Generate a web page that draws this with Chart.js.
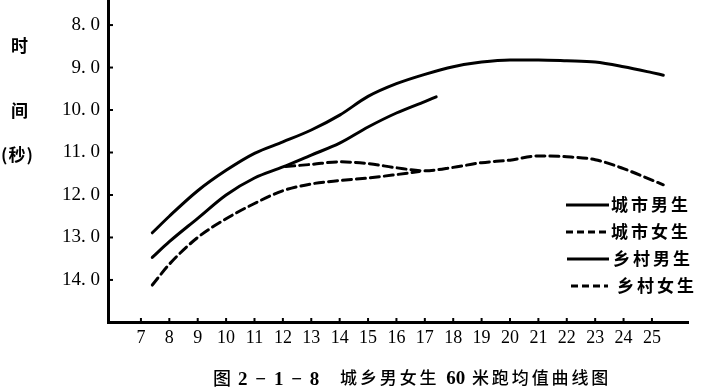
<!DOCTYPE html>
<html>
<head>
<meta charset="utf-8">
<script src="https://cdn.jsdelivr.net/npm/chart.js@4.4.1/dist/chart.umd.min.js"></script>
<style>
  html, body { margin: 0; padding: 0; background: #fff; }
  #wrap { position: relative; width: 712px; height: 390px; }
  canvas { position: absolute; left: 0; top: 0; }
  .t { position: absolute; font-family: "Noto Sans CJK SC", sans-serif; color: #000; font-weight: 700; white-space: nowrap; line-height: 1; }
  .s { font-family: "Liberation Serif", serif; }
</style>
</head>
<body>
<div id="wrap">
  <canvas id="c" width="712" height="390"></canvas>
  <div class="t" style="left:11px; top:36px; font-size:17px;">时</div>
  <div class="t" style="left:11px; top:101px; font-size:17px;">间</div>
  <div class="t" style="left:1px; top:145px; font-size:17px; font-weight:600; letter-spacing:1px;">(秒)</div>
  <div class="t" style="left:213px; top:368px; font-size:18px; font-weight:500; word-spacing:3px;">图 <span class="s" style="font-size:19px; font-weight:700;">2 − 1 − 8</span></div>
  <div class="t" style="left:340px; top:368px; font-size:17px; font-weight:500; letter-spacing:2.9px;">城乡男女生 <span class="s" style="font-size:19px; font-weight:700; letter-spacing:0;">60</span> 米跑均值曲线图</div>
</div>
<script>
// ---- data (ages in years, times in seconds) ----
const seriesNames = ['城市男生', '城市女生', '乡村男生', '乡村女生'];

const agesUrbanBoys = [7.4, 8, 9, 10, 11, 12, 13, 14, 15, 16, 17, 18, 19, 20, 21, 22, 23, 24, 25, 25.4];
const urbanBoys     = [12.89, 12.5, 11.9, 11.42, 11.02, 10.75, 10.47, 10.12, 9.68, 9.38, 9.16, 8.98, 8.87, 8.82, 8.82, 8.84, 8.87, 8.98, 9.12, 9.18];

const agesUrbanGirls = [12.1, 13, 14, 15, 16, 17, 18, 19, 20, 21, 22, 23, 24, 25, 25.4];
const urbanGirls     = [11.33, 11.28, 11.22, 11.26, 11.36, 11.43, 11.35, 11.24, 11.18, 11.08, 11.1, 11.17, 11.38, 11.65, 11.76];

const agesRuralBoys = [7.4, 8, 9, 10, 11, 12, 13, 14, 15, 16, 17, 17.4];
const ruralBoys     = [13.47, 13.1, 12.55, 12.0, 11.6, 11.34, 11.06, 10.78, 10.4, 10.07, 9.8, 9.69];

const agesRuralGirls = [7.4, 8, 9, 10, 11, 12, 13, 14, 15, 16, 16.8];
const ruralGirls     = [14.12, 13.63, 13.0, 12.56, 12.2, 11.9, 11.74, 11.66, 11.6, 11.52, 11.45];

const xTickValues = [7, 8, 9, 10, 11, 12, 13, 14, 15, 16, 17, 18, 19, 20, 21, 22, 23, 24, 25];
const yTickValues = [8, 9, 10, 11, 12, 13, 14];
const yTickLabels = ['8. 0', '9. 0', '10. 0', '11. 0', '12. 0', '13. 0', '14. 0'];

const pts = (xs, ys) => xs.map((x, i) => ({ x: x, y: ys[i] }));

const solid = [];
const dashed = [9, 5];

const datasets = [
  { label: seriesNames[0], data: pts(agesUrbanBoys, urbanBoys), borderDash: solid },
  { label: seriesNames[1], data: pts(agesUrbanGirls, urbanGirls), borderDash: dashed },
  { label: seriesNames[2], data: pts(agesRuralBoys, ruralBoys), borderDash: solid },
  { label: seriesNames[3], data: pts(agesRuralGirls, ruralGirls), borderDash: dashed }
].map(d => Object.assign(d, {
  borderColor: '#000', borderWidth: 3, pointRadius: 0, fill: false,
  tension: 0.4, cubicInterpolationMode: 'monotone', borderCapStyle: 'round'
}));

const serif = '"Liberation Serif", "DejaVu Serif", serif';

const extras = {
  id: 'extras',
  afterDraw(chart) {
    const ctx = chart.ctx;
    const xs = chart.scales.x, ys = chart.scales.y;
    const area = chart.chartArea;
    ctx.save();
    ctx.strokeStyle = '#000';
    ctx.lineWidth = 2;
    // inward tick marks
    yTickValues.forEach(v => {
      const y = ys.getPixelForValue(v);
      ctx.beginPath(); ctx.moveTo(area.left, y); ctx.lineTo(area.left + 5, y); ctx.stroke();
    });
    xTickValues.forEach(v => {
      const x = xs.getPixelForValue(v);
      ctx.beginPath(); ctx.moveTo(x, area.bottom); ctx.lineTo(x, area.bottom - 4); ctx.stroke();
    });
    // legend
    const rows = [205, 232, 259, 286];
    const lx0 = [566, 566, 567, 571], lx1 = [609, 609, 609, 608];
    const tx = [611, 611, 613, 617];
    ctx.font = '700 17px "Noto Sans CJK SC"';
    ctx.fillStyle = '#000';
    ctx.textBaseline = 'middle';
    rows.forEach((y, i) => {
      ctx.lineWidth = 3;
      ctx.setLineDash(datasets[i].borderDash.length ? [7, 4] : []);
      ctx.beginPath(); ctx.moveTo(lx0[i], y); ctx.lineTo(lx1[i], y); ctx.stroke();
      ctx.setLineDash([]);
      const name = seriesNames[i];
      let x = tx[i];
      for (const ch of name) { ctx.fillText(ch, x, y); x += 20; }
    });
    ctx.restore();
  }
};

new Chart(document.getElementById('c'), {
  type: 'line',
  data: { datasets },
  options: {
    responsive: false,
    animation: false,
    events: [],
    layout: { padding: { left: 0, right: 24, top: 0, bottom: 0 } },
    plugins: { legend: { display: false }, tooltip: { enabled: false } },
    scales: {
      x: {
        type: 'linear', min: 5.84, max: 26.27,
        grid: { display: false, drawTicks: false },
        border: { display: true, color: '#000', width: 3 },
        afterBuildTicks: s => { s.ticks = xTickValues.map(v => ({ value: v })); },
        afterFit: s => { s.height = 68; s.paddingLeft = 0; s.paddingRight = 0; },
        ticks: {
          autoSkip: false, maxRotation: 0, padding: 5, color: '#000',
          font: { family: serif, size: 18 },
          callback: v => String(v)
        }
      },
      y: {
        type: 'linear', reverse: true, min: 7.41, max: 14.99,
        grid: { display: false, drawTicks: false },
        border: { display: true, color: '#000', width: 3 },
        afterBuildTicks: s => { s.ticks = yTickValues.map(v => ({ value: v })); },
        afterFit: s => { s.width = 108; s.paddingTop = 0; s.paddingBottom = 0; },
        ticks: {
          autoSkip: false, padding: 8, color: '#000',
          font: { family: serif, size: 19 },
          callback: v => yTickLabels[yTickValues.indexOf(v)]
        }
      }
    }
  },
  plugins: [extras]
});
</script>
</body>
</html>
